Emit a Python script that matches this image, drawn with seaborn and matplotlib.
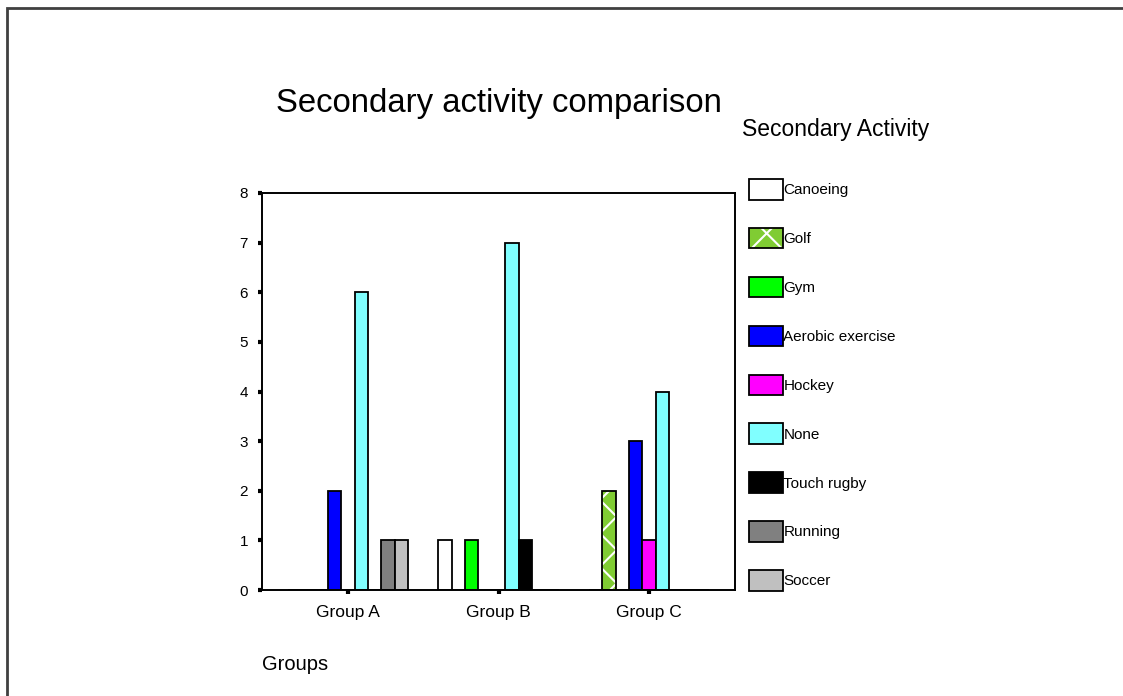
import matplotlib
matplotlib.use("Agg")
import matplotlib.pyplot as plt
from matplotlib.patches import Patch, Rectangle
from matplotlib.legend_handler import HandlerTuple
import seaborn as sns
import pandas as pd

groups = ["Group A", "Group B", "Group C"]
activities = ["Canoeing", "Golf", "Gym", "Aerobic exercise", "Hockey",
              "None", "Touch rugby", "Running", "Soccer"]
group_a = [0, 0, 0, 2, 0, 6, 0, 1, 1]
group_b = [1, 0, 1, 0, 0, 7, 1, 0, 0]
group_c = [0, 2, 0, 3, 1, 4, 0, 0, 0]
colors = ["#FFFFFF", "#80CC33", "#00FF00", "#0000FF", "#FF00FF",
          "#80FFFF", "#000000", "#808080", "#C0C0C0"]
y_ticks = [0, 1, 2, 3, 4, 5, 6, 7, 8]

rows = []
for g, vals in zip(groups, [group_a, group_b, group_c]):
    for act, v in zip(activities, vals):
        rows.append({"group": g, "activity": act, "count": v})
df = pd.DataFrame(rows)

sns.set_style("ticks")
plt.rcParams["font.family"] = ["Liberation Sans", "DejaVu Sans"]
plt.rcParams["hatch.linewidth"] = 1.5
for key in ["text.color", "axes.labelcolor", "xtick.color", "ytick.color"]:
    plt.rcParams[key] = "black"

W, H = 1123, 696
fig = plt.figure(figsize=(W / 100, H / 100), dpi=100)
ax = fig.add_axes([262 / W, 1 - 590 / H, (735 - 262) / W, (590 - 193) / H])

sns.barplot(data=df, x="group", y="count", hue="activity", order=groups,
            hue_order=activities, palette=dict(zip(activities, colors)),
            saturation=1, errorbar=None, width=0.8, edgecolor="black",
            linewidth=1.3, legend=False, ax=ax)

# golf bars: white crosshatch with a black outline on top
for p in ax.containers[1]:
    ax.add_patch(Rectangle(p.get_xy(), p.get_width(), p.get_height(),
                           fill=False, edgecolor="black", linewidth=1.3))
    p.set_edgecolor("white")
    p.set_hatch("x")
    p.set_linewidth(0)

ax.set_xlim(-0.57, 2.57)
ax.set_ylim(0, 8)
ax.set_yticks(y_ticks)
for s in ax.spines.values():
    s.set_visible(True)
    s.set_linewidth(1.4)
    s.set_color("black")
ax.tick_params(axis="both", length=3, width=3, color="black", direction="out")
ax.tick_params(axis="y", pad=7, labelsize=11)
ax.tick_params(axis="x", pad=8, labelsize=12.5)
ax.set_ylabel("")
ax.set_xlabel("Groups", loc="left", fontsize=14.5, labelpad=25)
ax.set_title("Secondary activity comparison", fontsize=23.7, pad=58)

handles = []
for act, col in zip(activities, colors):
    if act == "Golf":
        handles.append((Patch(facecolor=col, edgecolor="white", hatch="x", linewidth=0),
                        Patch(facecolor="none", edgecolor="black", linewidth=1.3)))
    else:
        handles.append(Patch(facecolor=col, edgecolor="black", linewidth=1.3))
leg = fig.legend(handles, activities,
                 handler_map={tuple: HandlerTuple(ndivide=1, pad=0)},
                 loc="upper left", bbox_to_anchor=(742 / W, 1 - 118 / H),
                 frameon=False, title="Secondary Activity", title_fontsize=16.5,
                 fontsize=11, handlelength=2.2, handleheight=1.7,
                 labelspacing=1.85, handletextpad=0.05, borderpad=0,
                 borderaxespad=0)
leg._legend_box.align = "left"
leg._legend_handle_box.pad = 5
leg._legend_box.sep += 2

# outer frame (top and left edges visible in the reference)
fig.add_artist(Rectangle((7 / W, -0.5), 2, 1.5 - 8 / H, transform=fig.transFigure,
                         fill=False, edgecolor="#404040", linewidth=2))

fig.savefig("out.png", dpi=100)
